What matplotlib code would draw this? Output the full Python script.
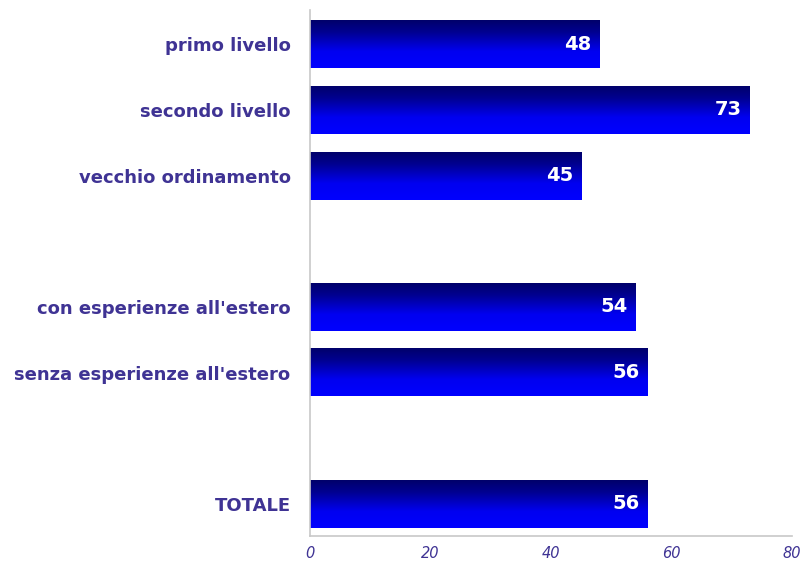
import matplotlib
matplotlib.use("Agg")
import matplotlib.pyplot as plt
import numpy as np
from matplotlib.colors import LinearSegmentedColormap

# data
categories = ["primo livello", "secondo livello", "vecchio ordinamento", "",
              "con esperienze all'estero", "senza esperienze all'estero", "",
              "TOTALE"]
values = [48, 73, 45, None, 54, 56, None, 56]
x_ticks = [0, 20, 40, 60, 80]

label_color = "#3F3394"
grad = LinearSegmentedColormap.from_list(
    "barfade", [(0.0, "#00006A"), (0.25, "#000090"), (0.65, "#0000F0"), (1.0, "#0000FF")])

fig = plt.figure(figsize=(8.02, 5.63), dpi=100)
ax = fig.add_axes([0.3865, 0.048, 0.601, 0.934])

bar_h = 0.73
gradient = np.linspace(0, 1, 256).reshape(-1, 1)
for i, v in enumerate(values):
    if v is None:
        continue
    ax.barh(i, v, height=bar_h, color="none", edgecolor="none")
    # vertical fade, dark at the top
    ax.imshow(gradient, cmap=grad, aspect="auto",
              extent=[0, v, i + bar_h / 2, i - bar_h / 2],
              origin="upper", zorder=2)
    ax.text(v - 1.3, i, f"{v}", color="white", fontsize=14, fontweight="bold",
            ha="right", va="center", zorder=3)

ax.set_xlim(0, 80)
ax.set_ylim(7.49, -0.52)
ax.set_yticks(range(len(categories)))
ax.set_yticklabels(categories, color=label_color, fontsize=13, fontweight="bold")
ax.tick_params(axis="y", length=0, pad=14)

ax.set_xticks(x_ticks)
ax.set_xticklabels([str(t) for t in x_ticks], color=label_color, fontsize=10.5,
                   fontstyle="italic")
ax.tick_params(axis="x", length=0, pad=7)

for side in ["top", "right"]:
    ax.spines[side].set_visible(False)
ax.spines["left"].set_color("#C8C8C8")
ax.spines["bottom"].set_color("#C8C8C8")
ax.spines["left"].set_linewidth(1.2)
ax.spines["bottom"].set_linewidth(1.2)

fig.savefig("out.png", dpi=100)
plt.close(fig)
